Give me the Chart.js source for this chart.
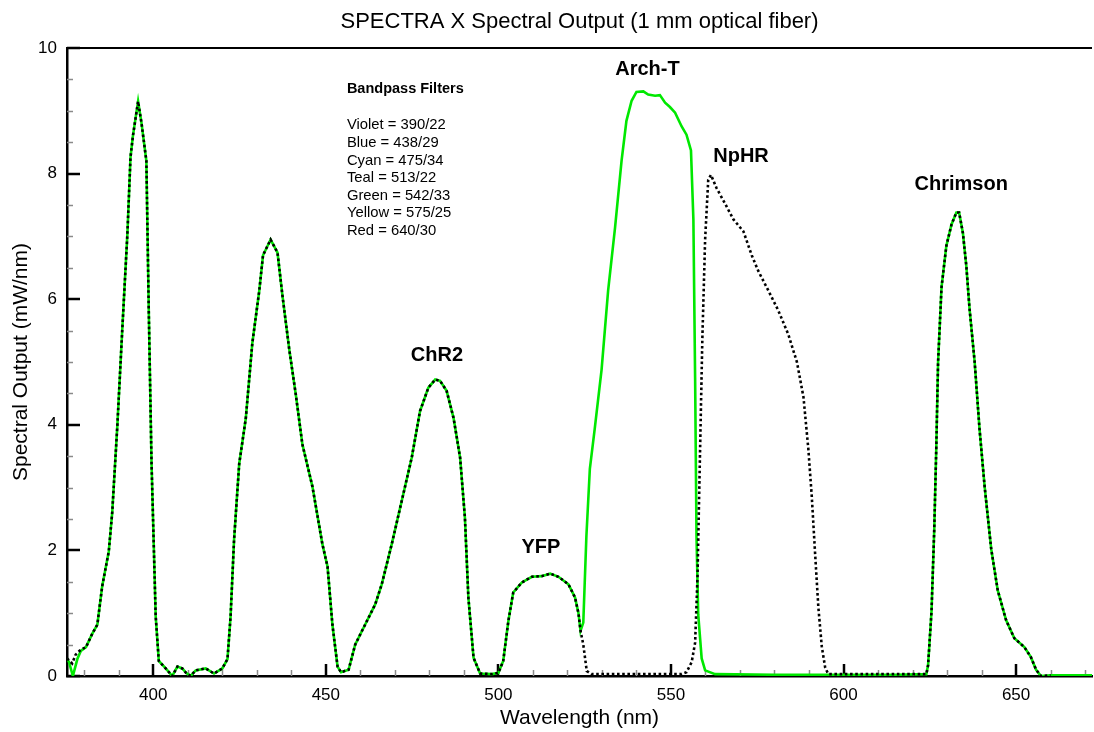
<!DOCTYPE html>
<html>
<head>
<meta charset="utf-8">
<script src="https://cdn.jsdelivr.net/npm/chart.js@4.4.1/dist/chart.umd.min.js"></script>
<style>
html,body{margin:0;padding:0;background:#fff;}
#wrap{width:1094px;height:732px;position:relative;}
canvas{display:block;}
</style>
</head>
<body>
<div id="wrap"><canvas id="c" width="1094" height="732"></canvas></div>
<script>
// ---------- data (wavelength nm / spectral output mW/nm) ----------
const greenStartNm  = [375, 375.6, 376.7, 378, 379];
const greenStartVal = [0.28, 0.22, 0.0, 0.27, 0.4];
const blackStartNm  = [375, 376.5, 377.5, 379];
const blackStartVal = [0.28, 0.2, 0.34, 0.42];

// shared part (violet, blue, cyan/ChR2, teal/YFP)
const sharedNm = [380.5, 382.3, 383.8, 385.2, 387.1, 388.1, 389.6, 391, 392.5, 393.4, 394.1, 395.6, 396.6, 398, 398.7, 399.5, 400.7, 401.6,
  403.6, 405.5, 407, 408.4, 409.5, 410.8, 412.3, 415.2, 417.6, 420, 421.5,
  422.4, 423.4, 424.9, 426.8, 428.7, 430.7, 431.8, 434, 436, 437.4, 439.4, 441.3, 443.2, 446.1, 449, 450.5, 451.9, 453.4,
  454.4, 456.6, 458.5, 461.4, 464.3, 466.2, 469.1, 472, 474.9, 477.3, 479.7, 481.7, 483.1, 485, 487, 488.9, 490.3, 491.3, 492.8, 494.7, 498.1, 500,
  501.4, 502.9, 504.3, 506.8, 509.7, 512.5, 515, 517.4, 520.3, 522.2, 523.2, 523.8];
const sharedVal = [0.46, 0.67, 0.82, 1.43, 1.98, 2.6, 4.0, 5.5, 7.04, 8.26, 8.6, 9.15, 8.8, 8.2, 5.8, 3.38, 0.95, 0.24,
  0.12, 0.0, 0.15, 0.12, 0.05, 0.0, 0.09, 0.12, 0.04, 0.12, 0.27,
  0.95, 2.16, 3.38, 4.1, 5.3, 6.13, 6.7, 6.95, 6.74, 6.07, 5.2, 4.48, 3.69, 3.02, 2.1, 1.74, 0.82, 0.15,
  0.06, 0.1, 0.5, 0.82, 1.14, 1.46, 2.1, 2.79, 3.48, 4.22, 4.59, 4.72, 4.7, 4.54, 4.11, 3.48, 2.52, 1.25, 0.29, 0.04, 0.03, 0.05,
  0.24, 0.88, 1.33, 1.49, 1.58, 1.59, 1.63, 1.58, 1.46, 1.25, 1.0, 0.72];

// green (Arch-T) band
const archNm  = [524.6, 525.5, 526.5, 527.9, 529.9, 531.8, 533.8, 535.7, 537.1, 538.6, 540, 542, 543.4, 545.4, 546.8, 548.3, 549.7, 551.2,
  553.1, 554.5, 555.8, 556.5, 557, 557.4, 557.9, 558.9, 559.9, 562.8, 580, 600, 615, 624];
const archVal = [0.85, 2.23, 3.3, 3.93, 4.88, 6.14, 7.14, 8.21, 8.84, 9.16, 9.3, 9.31, 9.26, 9.24, 9.25, 9.13, 9.06, 8.97,
  8.75, 8.62, 8.37, 7.27, 4.75, 2.23, 0.98, 0.28, 0.09, 0.03, 0.02, 0.02, 0.02, 0.03];

// black dotted (NpHR) band
const nphrNm  = [524.6, 525.6, 527, 535, 545, 553, 554.5, 556, 557, 557.7, 558.4, 559.1, 559.9, 560.8, 561.6, 563.2, 565.7, 568.1,
  571, 573.4, 575.3, 578.2, 581.1, 584, 586.5, 588.4, 589.8, 590.8, 591.8, 592.7, 593.7, 594.7, 595.6, 610, 624];
const nphrVal = [0.5, 0.08, 0.03, 0.03, 0.03, 0.03, 0.06, 0.22, 0.53, 1.6, 3.49, 5.38, 6.95, 7.9, 7.98, 7.77, 7.52, 7.27,
  7.08, 6.7, 6.45, 6.14, 5.82, 5.44, 5.0, 4.44, 3.62, 2.86, 1.92, 1.1, 0.47, 0.13, 0.03, 0.03, 0.03];

// shared red (Chrimson) band
const chrimsonNm  = [624.5, 625.5, 626.3, 626.9, 627.4, 628.4, 629.8, 631.3, 632.7, 633.5, 634.6, 635.6, 636.5, 638, 639.4, 640.9,
  642.8, 644.7, 647.1, 649.5, 652.4, 654.3, 655.8, 657.2, 660];
const chrimsonVal = [0.17, 1.03, 2.35, 3.68, 5.0, 6.19, 6.85, 7.19, 7.38, 7.38, 7.05, 6.52, 5.86, 5.0, 3.94, 3.01,
  2.02, 1.36, 0.89, 0.6, 0.46, 0.3, 0.1, 0.0, 0.01];
const greenTailNm  = [672];
const greenTailVal = [0.01];

// ticks & labels
const xMajorTicks = [400, 450, 500, 550, 600, 650];
const yMajorTicks = [0, 2, 4, 6, 8, 10];
const peakLabels   = ['ChR2', 'YFP', 'Arch-T', 'NpHR', 'Chrimson'];
const peakLabelNm  = [482.2, 512.3, 543.2, 570.3, 634.1];
const peakLabelVal = [5.1, 2.04, 9.65, 8.28, 7.83];
const filterTitle = 'Bandpass Filters';
const filterLines = ['Violet = 390/22', 'Blue = 438/29', 'Cyan = 475/34', 'Teal = 513/22',
  'Green = 542/33', 'Yellow = 575/25', 'Red = 640/30'];
const chartTitle = 'SPECTRA X Spectral Output (1 mm optical fiber)';

// ---------- build series ----------
function pts(xs, ys) { return xs.map((x, i) => ({x: x, y: ys[i]})); }
const greenData = [].concat(pts(greenStartNm, greenStartVal), pts(sharedNm, sharedVal), pts(archNm, archVal),
  pts(chrimsonNm, chrimsonVal), pts(greenTailNm, greenTailVal));
const blackData = [].concat(pts(blackStartNm, blackStartVal), pts(sharedNm, sharedVal), pts(nphrNm, nphrVal),
  pts(chrimsonNm, chrimsonVal));

const FONT = "'Liberation Sans', Arial, Helvetica, sans-serif";

const decor = {
  id: 'decor',
  beforeDatasetsDraw(chart) {
    const {ctx, chartArea: a, scales: {x, y}} = chart;
    ctx.save();
    ctx.lineCap = 'butt';
    // top frame
    ctx.strokeStyle = '#000'; ctx.lineWidth = 2;
    ctx.beginPath(); ctx.moveTo(a.left - 1, a.top); ctx.lineTo(a.right, a.top); ctx.stroke();
    // y minor ticks
    ctx.strokeStyle = '#8a8a8a'; ctx.lineWidth = 1.5;
    for (let v = 0.5; v < 10; v += 0.5) {
      if (Math.abs(v % 2) < 1e-6) continue;
      const py = Math.round(y.getPixelForValue(v)) + 0.5;
      ctx.beginPath(); ctx.moveTo(a.left, py); ctx.lineTo(a.left + 6, py); ctx.stroke();
    }
    // x minor ticks
    for (let v = 380; v <= 670; v += 10) {
      if (v % 50 === 0) continue;
      const px = Math.round(x.getPixelForValue(v)) + 0.5;
      ctx.beginPath(); ctx.moveTo(px, a.bottom); ctx.lineTo(px, a.bottom - 6); ctx.stroke();
    }
    // major ticks
    ctx.strokeStyle = '#000'; ctx.lineWidth = 2.5;
    yMajorTicks.forEach(v => {
      const py = Math.round(y.getPixelForValue(v));
      ctx.beginPath(); ctx.moveTo(a.left, py); ctx.lineTo(a.left + 13, py); ctx.stroke();
    });
    xMajorTicks.forEach(v => {
      const px = Math.round(x.getPixelForValue(v));
      ctx.beginPath(); ctx.moveTo(px, a.bottom); ctx.lineTo(px, a.bottom - 12); ctx.stroke();
    });
    ctx.restore();
  },
  afterDraw(chart) {
    const {ctx, chartArea: a, scales: {x, y}} = chart;
    ctx.save();
    ctx.fillStyle = '#000';
    // title
    ctx.font = '22px ' + FONT;
    ctx.textAlign = 'center'; ctx.textBaseline = 'middle';
    ctx.fillText(chartTitle, (a.left + a.right) / 2, 22);
    // peak labels
    ctx.font = 'bold 20px ' + FONT;
    peakLabels.forEach((t, i) => {
      ctx.fillText(t, x.getPixelForValue(peakLabelNm[i]), y.getPixelForValue(peakLabelVal[i]));
    });
    // filter legend text
    ctx.textAlign = 'left';
    const lx = x.getPixelForValue(456.1);
    ctx.font = 'bold 14.5px ' + FONT;
    ctx.fillText(filterTitle, lx, y.getPixelForValue(9.35));
    ctx.font = '14.8px ' + FONT;
    filterLines.forEach((t, i) => {
      ctx.fillText(t, lx, y.getPixelForValue(8.77) + i * 17.6);
    });
    ctx.restore();
  }
};

new Chart(document.getElementById('c'), {
  type: 'line',
  data: {
    datasets: [
      { label: 'NpHR set', data: blackData, borderColor: '#000', borderWidth: 2.6,
        borderDash: [2.6, 2.6], pointRadius: 0, tension: 0, fill: false },
      { label: 'Arch-T set', data: greenData, borderColor: 'rgb(0,232,0)', borderWidth: 2.6,
        pointRadius: 0, tension: 0, fill: false }
    ]
  },
  options: {
    responsive: false,
    animation: false,
    devicePixelRatio: 1,
    parsing: true,
    layout: { padding: { left: 0, right: 2, top: 48, bottom: 0 } },
    plugins: { legend: { display: false }, title: { display: false }, tooltip: { enabled: false } },
    scales: {
      x: {
        type: 'linear', min: 375, max: 672,
        afterBuildTicks: s => { s.ticks = xMajorTicks.map(v => ({value: v})); },
        afterFit: s => { s.height = 56; },
        grid: { display: false, drawTicks: false },
        border: { display: true, color: '#000', width: 2.5 },
        ticks: { color: '#000', font: { family: FONT, size: 17 }, padding: 9, maxRotation: 0 },
        title: { display: true, text: 'Wavelength (nm)', color: '#000',
          font: { family: FONT, size: 21 }, padding: { top: 0, bottom: 1 } }
      },
      y: {
        type: 'linear', min: 0, max: 10,
        afterBuildTicks: s => { s.ticks = yMajorTicks.map(v => ({value: v})); },
        afterFit: s => { s.width = 67; },
        grid: { display: false, drawTicks: false },
        border: { display: true, color: '#000', width: 2.5 },
        ticks: { color: '#000', font: { family: FONT, size: 17 }, padding: 10 },
        title: { display: true, text: 'Spectral Output (mW/nm)', color: '#000',
          font: { family: FONT, size: 21 }, padding: { top: 9, bottom: 0 } }
      }
    }
  },
  plugins: [decor]
});
</script>
</body>
</html>
